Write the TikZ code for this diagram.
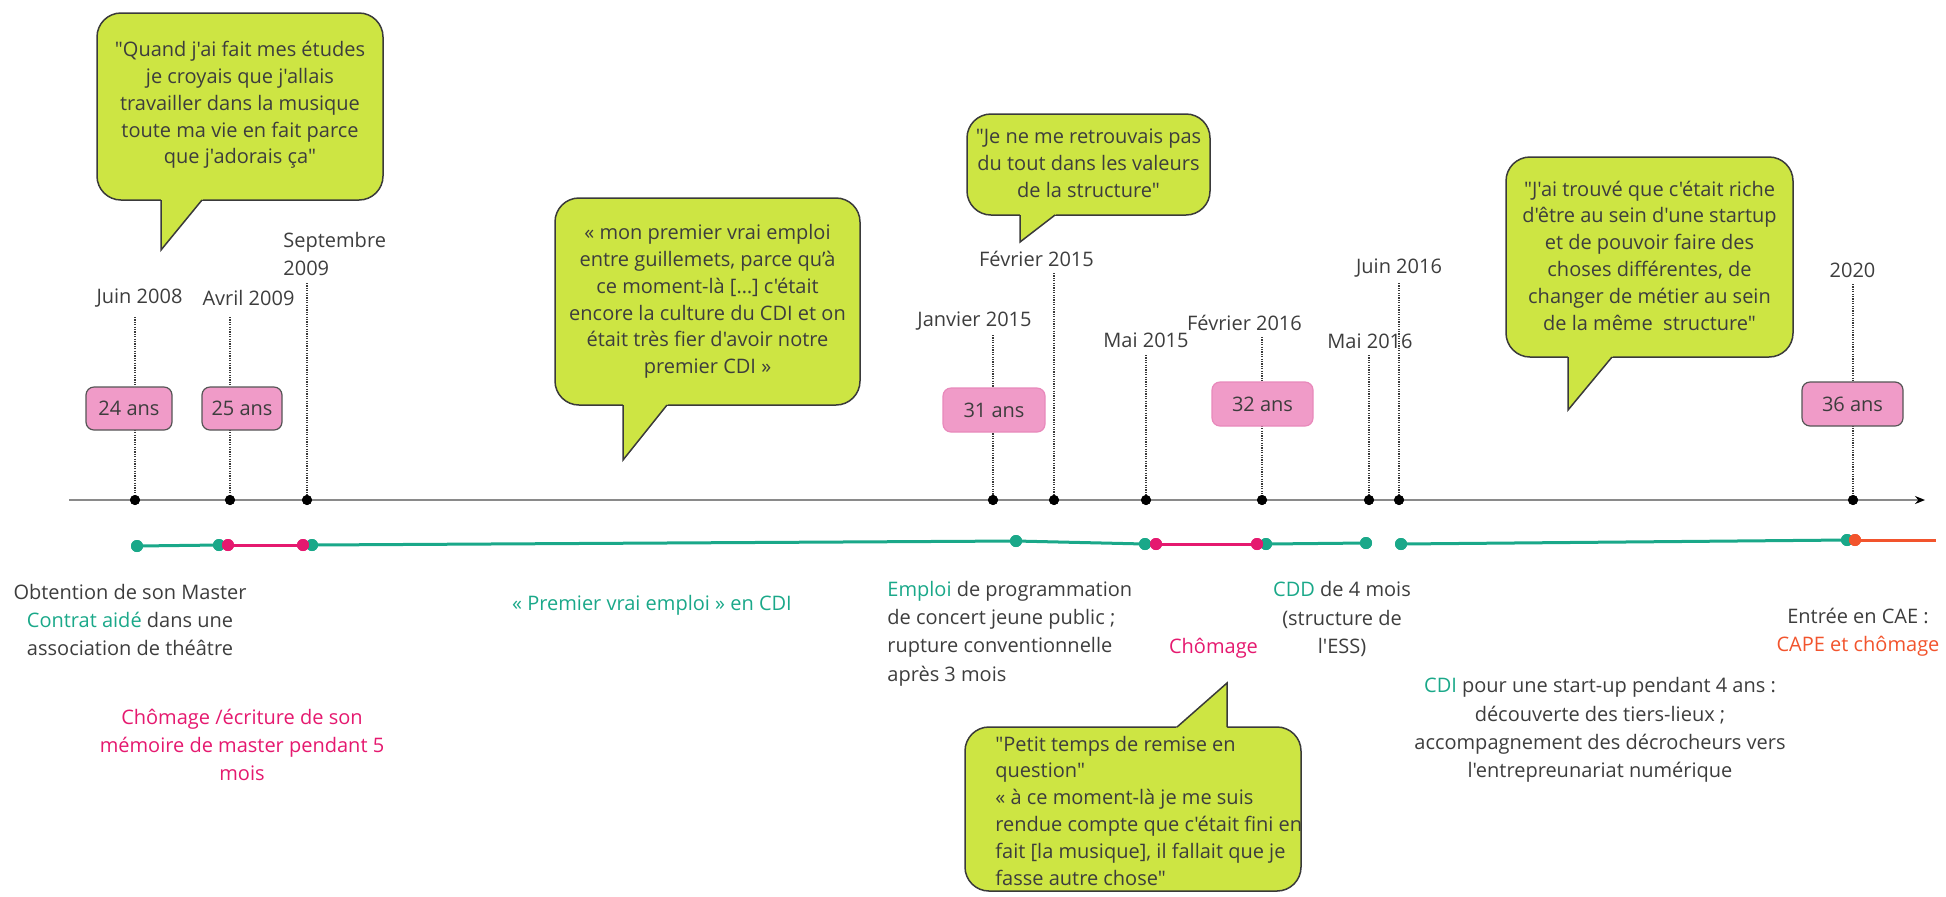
\documentclass[tikz,border=0pt]{standalone}
\usepackage{fontspec}
\setmainfont{Open Sans}[Ligatures=TeXOff]
\usetikzlibrary{arrows.meta}
\definecolor{lime}{HTML}{CDE543}
\definecolor{bord}{HTML}{3A3A3A}
\definecolor{txt}{HTML}{3D3D3D}
\definecolor{agefill}{HTML}{F09BC8}
\definecolor{agebord}{HTML}{555555}
\definecolor{agebordl}{HTML}{E889BB}
\definecolor{tealc}{HTML}{1AA889}
\definecolor{pinkc}{HTML}{E5196F}
\definecolor{orangec}{HTML}{F2542D}
\definecolor{axisc}{HTML}{8A8A8A}
\begin{document}
\begin{tikzpicture}[x=0.5pt,y=-0.5pt,
  base/.style={font=\fontsize{10}{14.2}\selectfont, text=txt, inner sep=0},
  bubble/.style={draw=bord, fill=lime, rounded corners=12pt, line width=0.75pt, inner sep=0},
  qtext/.style={base, font=\fontsize{10}{13.4}\selectfont},
  tailfill/.style={fill=lime},
  tailline/.style={draw=bord, line width=0.75pt},
  agebox/.style={base, draw=agebord, fill=agefill, rounded corners=4pt, line width=0.6pt},
  agelight/.style={agebox, draw=agebordl},
  dotline/.style={draw=bord, line width=0.6pt, dash pattern=on 0.6pt off 0.6pt},
  axdot/.style={circle, fill=black, inner sep=0, minimum size=5pt},
  tdot/.style={circle, fill=tealc, inner sep=0, minimum size=6pt},
  pdot/.style={circle, fill=pinkc, inner sep=0, minimum size=6pt},
  odot/.style={circle, fill=orangec, inner sep=0, minimum size=6pt},
  tline/.style={draw=tealc, line width=1.5pt},
  pline/.style={draw=pinkc, line width=1.5pt},
  oline/.style={draw=orangec, line width=1.5pt},
  axisline/.style={draw=axisc, line width=0.9pt, -{Stealth[length=5pt, width=4pt, color=black]}}
]
\useasboundingbox (0,0) rectangle (1946,896);

% ---------- speech bubbles ----------
\node[bubble, minimum width=143pt, minimum height=93.5pt] (q1) at (240,106.5) {};
\fill[tailfill] (161,196) -- (161,250) -- (202,200) -- (206,196) -- cycle;
\draw[tailline] (161,200) -- (161,250) -- (202,200);
\node[qtext, align=center] (q1t) at (240,105) {"Quand j'ai fait mes études\\je croyais que j'allais\\travailler dans la musique\\toute ma vie en fait parce\\que j'adorais ça"};

\node[bubble, minimum width=152.5pt, minimum height=103.5pt] (q2) at (707.5,301.5) {};
\fill[tailfill] (623,401) -- (623,460) -- (667,405) -- (671,401) -- cycle;
\draw[tailline] (623,405) -- (623,460) -- (667,405);
\node[qtext, align=center] (q2t) at (707.5,301.5) {« mon premier vrai emploi\\entre guillemets, parce qu’à\\ce moment-là […] c'était\\encore la culture du CDI et on\\était très fier d'avoir notre\\premier CDI »};

\node[bubble, minimum width=121.5pt, minimum height=50.5pt] (q3) at (1088.5,164.5) {};
\fill[tailfill] (1020,211) -- (1020,242) -- (1055,215) -- (1059,211) -- cycle;
\draw[tailline] (1020,215) -- (1020,242) -- (1055,215);
\node[qtext, align=center] (q3t) at (1088.5,163.5) {"Je ne me retrouvais pas\\du tout dans les valeurs\\de la structure"};

\node[bubble, minimum width=143.5pt, minimum height=100pt] (q4) at (1649.5,257) {};
\fill[tailfill] (1568,353) -- (1568,410) -- (1612,357) -- (1616,353) -- cycle;
\draw[tailline] (1568,357) -- (1568,410) -- (1612,357);
\node[qtext, align=center] (q4t) at (1649.5,255.5) {"J'ai trouvé que c'était riche\\d'être au sein d'une startup\\et de pouvoir faire des\\choses différentes, de\\changer de métier au sein\\de la même\ \ structure"};

\node[bubble, minimum width=168pt, minimum height=82pt] (q5) at (1133,809) {};
\fill[tailfill] (1173,731) -- (1177,727) -- (1227,683) -- (1227,731) -- cycle;
\draw[tailline] (1177,727) -- (1227,683) -- (1227,727);
\node[qtext, align=left, anchor=west] (q5t) at (995,810.5) {"Petit temps de remise en\\question"\\« à ce moment-là je me suis\\rendue compte que c'était fini en\\fait [la musique], il fallait que je\\fasse autre chose"};

% ---------- axis ----------
\coordinate (ax0) at (69,500);
\coordinate (ax1) at (1925,500);
\draw[axisline] (ax0) -- (ax1);

% date labels
\node[base] (l1) at (139.5,298) {Juin 2008};
\node[base] (l2) at (248.5,298) {Avril 2009};
\node[base, align=left, anchor=west] (l3) at (283,254) {Septembre\\2009};
\node[base] (l4) at (974.5,321) {Janvier 2015};
\node[base] (l5) at (1036.5,259) {Février 2015};
\node[base] (l6) at (1146,340) {Mai 2015};
\node[base] (l7) at (1244.5,323) {Février 2016};
\node[base] (l8) at (1370,341) {Mai 2016};
\node[base] (l9) at (1399,268) {Juin 2016};
\node[base] (l10) at (1852.5,270) {2020};

% tops of dotted lines
\coordinate (t1) at (135,317);
\coordinate (t2) at (230,317);
\coordinate (t3) at (307,283);
\coordinate (t4) at (993,335);
\coordinate (t5) at (1054,273);
\coordinate (t6) at (1146,355);
\coordinate (t7) at (1262,337);
\coordinate (t8) at (1369,355);
\coordinate (t9) at (1399,283);
\coordinate (t10) at (1853,284);

% axis dots
\node[axdot] (d1) at (135,500) {};
\node[axdot] (d2) at (230,500) {};
\node[axdot] (d3) at (307,500) {};
\node[axdot] (d4) at (993,500) {};
\node[axdot] (d5) at (1054,500) {};
\node[axdot] (d6) at (1146,500) {};
\node[axdot] (d7) at (1262,500) {};
\node[axdot] (d8) at (1369,500) {};
\node[axdot] (d9) at (1399,500) {};
\node[axdot] (d10) at (1853,500) {};

\foreach \i in {1,...,10} { \draw[dotline] (t\i) -- (d\i.center); }
\foreach \i in {1,...,10} { \fill (d\i) circle (2.5pt); }

% age boxes
\node[agebox, minimum width=43pt, minimum height=21.5pt] (a24) at (129,408.5) {24 ans};
\node[agebox, minimum width=40pt, minimum height=21.5pt] (a25) at (242,408.5) {25 ans};
\node[agelight, minimum width=51pt, minimum height=22pt] (a31) at (994,410) {31 ans};
\node[agelight, minimum width=50.5pt, minimum height=22pt] (a32) at (1262.5,404) {32 ans};
\node[agebox, minimum width=50.5pt, minimum height=22pt] (a36) at (1852.5,404) {36 ans};

% ---------- coloured status line ----------
\node[tdot] (c1) at (137,546) {};
\node[tdot] (c2) at (219,545) {};
\node[tdot] (c3) at (312,545) {};
\node[tdot] (c4) at (1016,541) {};
\node[tdot] (c5) at (1145,544) {};
\node[tdot] (c6) at (1266,544) {};
\node[tdot] (c7) at (1366,543) {};
\node[tdot] (c8) at (1401,544) {};
\node[tdot] (c9) at (1847,540) {};
\draw[tline] (c1.center) -- (c2.center);
\draw[tline] (c3.center) -- (c4.center) -- (c5.center);
\draw[tline] (c6.center) -- (c7.center);
\draw[tline] (c8.center) -- (c9.center);
\foreach \n in {c1,c2,c3,c4,c5,c6,c7,c8,c9} { \fill[tealc] (\n) circle (3pt); }

\node[pdot] (p1) at (228,545) {};
\node[pdot] (p2) at (303,545) {};
\node[pdot] (p3) at (1156,544) {};
\node[pdot] (p4) at (1257,544) {};
\draw[pline] (p1.center) -- (p2.center);
\draw[pline] (p3.center) -- (p4.center);
\foreach \n in {p1,p2,p3,p4} { \fill[pinkc] (\n) circle (3pt); }

\node[odot] (o1) at (1855,540) {};
\coordinate (oend) at (1936,540);
\draw[oline] (o1.center) -- (oend);
\fill[orangec] (o1) circle (3pt);

% ---------- bottom labels ----------
\node[base, align=center] (b1) at (130,620) {Obtention de son Master\\\textcolor{tealc}{Contrat aidé} dans une\\association de théâtre};
\node[base, align=center, text=pinkc] (b2) at (242,745) {Chômage /écriture de son\\mémoire de master pendant 5\\mois};
\node[base, text=tealc] (b3) at (652,605) {« Premier vrai emploi » en CDI};
\node[base, align=left, anchor=west] (b4) at (887,633.5) {\textcolor{tealc}{Emploi} de programmation\\de concert jeune public ;\\rupture conventionnelle\\après 3 mois};
\node[base, text=pinkc] (b5) at (1213.5,648) {Chômage};
\node[base, align=center] (b6) at (1342,619) {\textcolor{tealc}{CDD} de 4 mois\\(structure de\\l'ESS)};
\node[base, align=center] (b7) at (1600,730) {\textcolor{tealc}{CDI} pour une start-up pendant 4 ans :\\découverte des tiers-lieux ;\\accompagnement des décrocheurs vers\\l'entrepreunariat numérique};
\node[base, align=center] (b8) at (1858,632.5) {Entrée en CAE :\\\textcolor{orangec}{CAPE et chômage}};
\end{tikzpicture}
\end{document}
